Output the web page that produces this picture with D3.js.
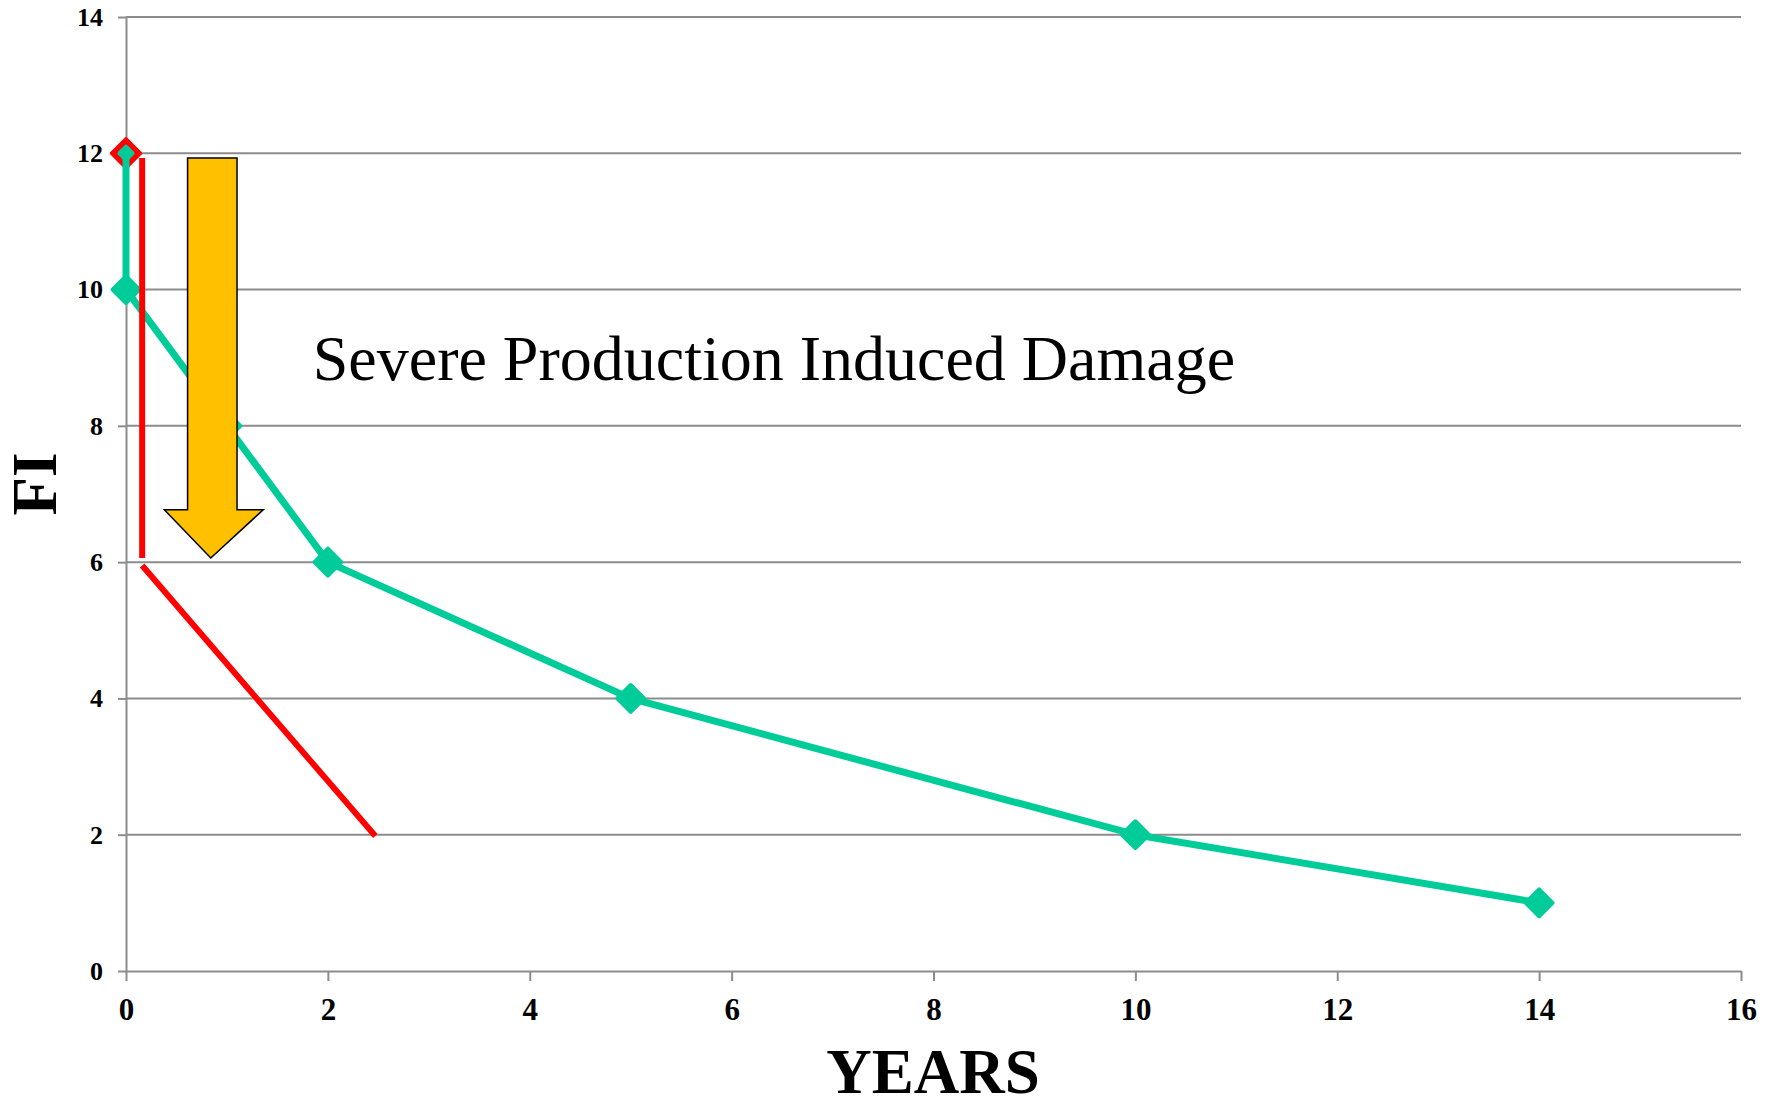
<!DOCTYPE html>
<html>
<head>
<meta charset="utf-8">
<script src="https://cdn.jsdelivr.net/npm/d3@7"></script>
<style>
  html, body { margin: 0; padding: 0; background: #fff; }
  svg { display: block; }
  text { font-family: "Liberation Serif", "Times New Roman", serif; }
</style>
</head>
<body>
<svg id="chart" width="1779" height="1101"></svg>
<script>
// ---- data ----
const xTicks = [0, 2, 4, 6, 8, 10, 12, 14, 16];
const yTicks = [0, 2, 4, 6, 8, 10, 12, 14];
const greenYears = [0, 0, 1, 2, 5, 10, 14];
const greenFI    = [12, 10, 8, 6, 4, 2, 1];
const redVertYears = [0.16, 0.16];
const redVertFI    = [11.93, 6.06];
const redDiagYears = [0.16, 2.47];
const redDiagFI    = [5.95, 1.98];
const redMarkerYears = [0];
const redMarkerFI    = [12];
// arrow annotation (data units): shaft left/right, head left/right, tip x ; shaft top, head base, tip y
const arrowYears = [0.61, 1.10, 0.38, 1.36, 0.84];
const arrowFI    = [11.93, 6.77, 6.06];
const annotationText = "Severe Production Induced Damage";
const annotationYear = 1.85;
const annotationFI = 8.67;
const xTitle = "YEARS";
const yTitle = "FI";

(function () {
// ---- layout ----
const svg = d3.select("#chart");
const x = d3.scaleLinear().domain([0, 16]).range([126, 1741]);
const y = d3.scaleLinear().domain([0, 14]).range([971, 17]);
const gridColor = "#8c8c8c";
const green = "#00CC99";
const red = "#FF0000";
const fontFam = "'Liberation Serif', 'Times New Roman', serif";

// gridlines
svg.append("g").selectAll("line").data(yTicks.filter(d => d > 0)).join("line")
  .attr("x1", x(0)).attr("x2", x(16))
  .attr("y1", d => y(d)).attr("y2", d => y(d))
  .attr("stroke", gridColor).attr("stroke-width", 2);

// y axis
const yAxis = svg.append("g").attr("transform", `translate(${x(0)},0)`)
  .call(d3.axisLeft(y).tickValues(yTicks).tickSizeInner(8).tickSizeOuter(0).tickPadding(15).tickFormat(d3.format("d")));
yAxis.select(".domain").attr("stroke", gridColor).attr("stroke-width", 2);
yAxis.selectAll(".tick line").attr("stroke", gridColor).attr("stroke-width", 2);
yAxis.selectAll(".tick text").attr("font-size", 26).attr("font-weight", "bold")
  .attr("font-family", fontFam).attr("fill", "#000");

// x axis
const xAxis = svg.append("g").attr("transform", `translate(0,${y(0)})`)
  .call(d3.axisBottom(x).tickValues(xTicks).tickSizeInner(10).tickSizeOuter(0).tickPadding(17).tickFormat(d3.format("d")));
xAxis.select(".domain").attr("stroke", gridColor).attr("stroke-width", 2);
xAxis.selectAll(".tick line").attr("stroke", gridColor).attr("stroke-width", 2);
xAxis.selectAll(".tick text").attr("font-size", 31).attr("font-weight", "bold")
  .attr("font-family", fontFam).attr("fill", "#000");

// red diamond marker at (0,12)
const diamond = d3.symbol().type(d3.symbolDiamond2);
svg.append("g").selectAll("path").data(redMarkerYears.map((v, i) => [v, redMarkerFI[i]])).join("path")
  .attr("d", diamond.size(560)())
  .attr("transform", d => `translate(${x(d[0])},${y(d[1])})`)
  .attr("fill", red).attr("stroke", red).attr("stroke-width", 3).attr("stroke-linejoin", "round");

// green line
const greenPts = greenYears.map((v, i) => [v, greenFI[i]]);
const line = d3.line().x(d => x(d[0])).y(d => y(d[1]));
svg.append("path").datum(greenPts).attr("d", line)
  .attr("fill", "none").attr("stroke", green).attr("stroke-width", 7).attr("stroke-linejoin", "round");
// green markers
svg.append("g").selectAll("path").data(greenPts).join("path")
  .attr("d", (d, i) => diamond.size(i === 0 ? 110 : 460)())
  .attr("transform", d => `translate(${x(d[0])},${y(d[1])})`)
  .attr("fill", green).attr("stroke", green).attr("stroke-width", 4).attr("stroke-linejoin", "round");

// red lines
const redVert = redVertYears.map((v, i) => [v, redVertFI[i]]);
const redDiag = redDiagYears.map((v, i) => [v, redDiagFI[i]]);
[redVert, redDiag].forEach(seg => {
  svg.append("path").datum(seg).attr("d", line)
    .attr("fill", "none").attr("stroke", red).attr("stroke-width", 6);
});

// arrow
const [sl, sr, hl, hr, tx] = arrowYears;
const [aTop, hb, tip] = arrowFI;
const arrowPts = [[sl, aTop], [sr, aTop], [sr, hb], [hr, hb], [tx, tip], [hl, hb], [sl, hb]];
svg.append("path").datum(arrowPts).attr("d", d3.line().x(d => x(d[0])).y(d => y(d[1])).curve(d3.curveLinearClosed))
  .attr("fill", "#FFC000").attr("stroke", "#000").attr("stroke-width", 1.5).attr("stroke-linejoin", "miter");

// annotation text
svg.append("text").attr("x", x(annotationYear)).attr("y", y(annotationFI))
  .attr("font-size", 64).attr("fill", "#000").text(annotationText);

// axis titles
svg.append("text").attr("x", 933).attr("y", 1093).attr("text-anchor", "middle")
  .attr("font-size", 63).attr("font-weight", "bold").attr("fill", "#000").text(xTitle);
svg.append("text").attr("transform", "translate(56,484) rotate(-90)").attr("text-anchor", "middle")
  .attr("font-size", 63).attr("font-weight", "bold").attr("fill", "#000").text(yTitle);
})();
</script>
</body>
</html>
